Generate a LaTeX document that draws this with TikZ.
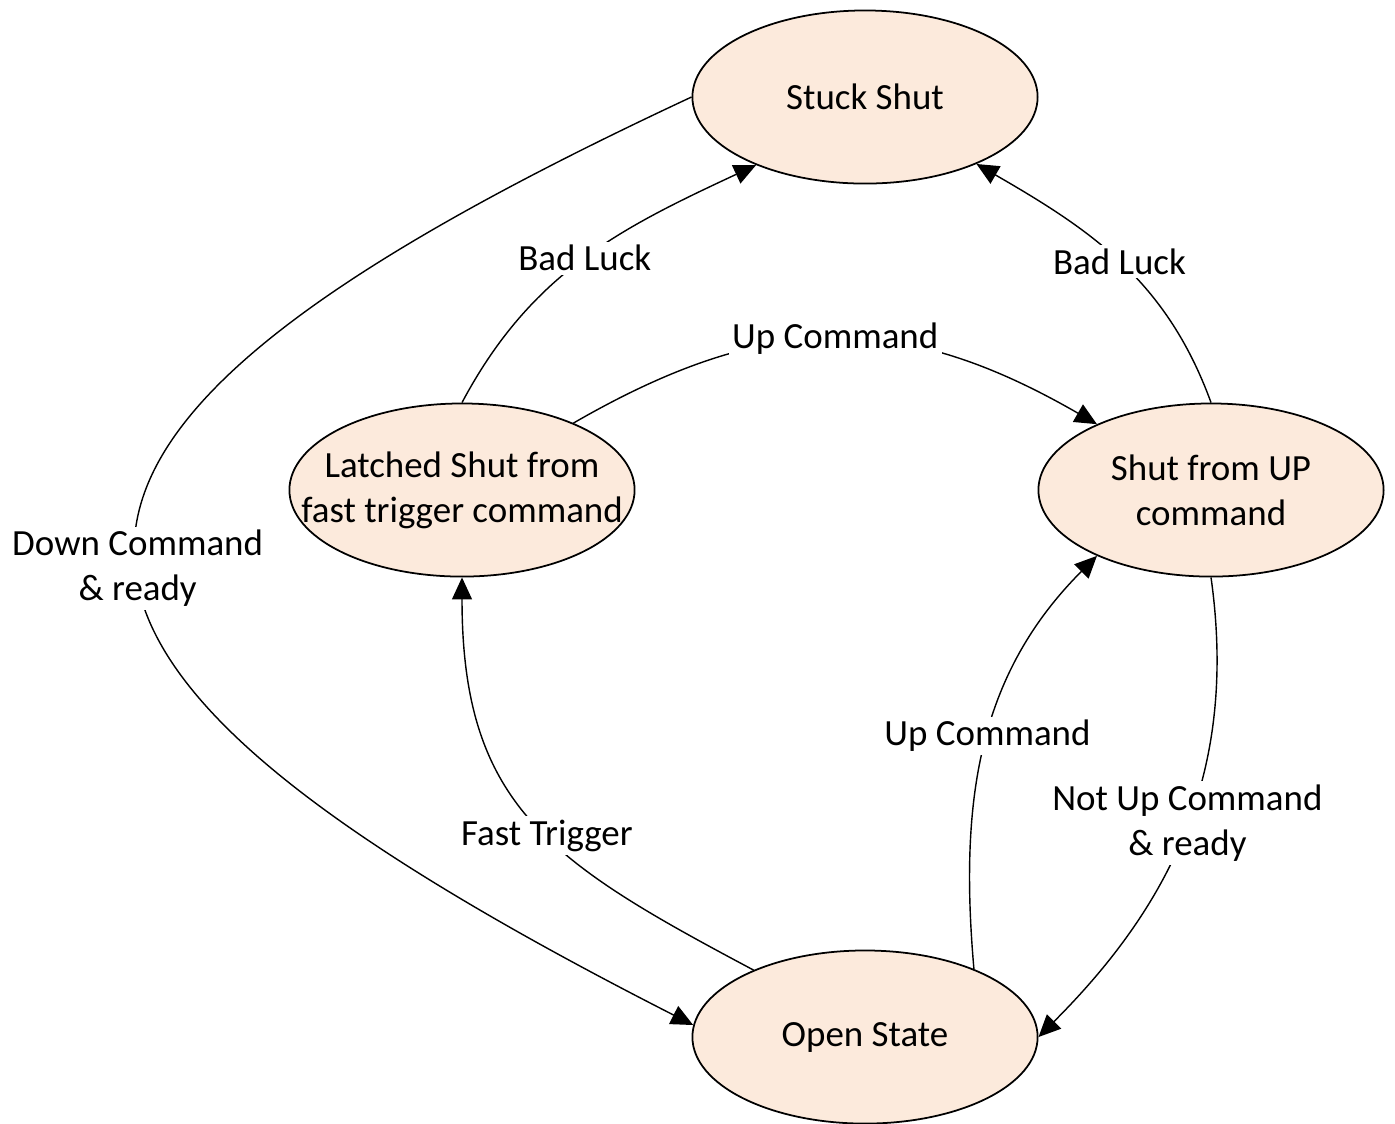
\documentclass[tikz,border=0pt]{standalone}
\usepackage{fontspec}
\setmainfont{Carlito}
\usetikzlibrary{arrows.meta,shapes.geometric}
\definecolor{statefill}{RGB}{252,234,220}
\begin{document}
\begin{tikzpicture}[
    x=0.01cm, y=-0.01cm, % one unit per pixel of the sketch
    font=\fontsize{10.5}{12.8}\selectfont,
    state/.style={ellipse, draw, line width=0.5pt, fill=statefill,
        minimum width=3.45cm, minimum height=1.73cm, inner sep=0pt},
    statetxt/.style={align=center, inner sep=0pt},
    trans/.style={draw, line width=0.4pt, -{Triangle[length=0.22cm, width=0.2cm]}},
    lbl/.style={fill=white, align=center, inner sep=1pt}
]
\useasboundingbox (0,0) rectangle (1395,1123);

% States
\node (stuck) [state, label={[statetxt]center:Stuck Shut}] at (865,97) {};
\node (latched) [state, label={[statetxt]center:Latched Shut from\\fast trigger command}] at (462,490) {};
\node (shutup) [state, label={[statetxt]center:Shut from UP\\command}] at (1211,490) {};
\node (open) [state, label={[statetxt]center:Open State}] at (865,1037) {};

% Transitions
\draw[trans] (stuck.west) to[out=205, in=153, looseness=2.27]
    node[lbl, pos=0.52] {Down Command\\\& ready} (open.176);
\draw[trans] (latched.north) to[out=62, in=205]
    node[lbl, pos=0.5] {Bad Luck} (stuck.212);
\draw[trans] (latched.31) to[out=30, in=150, looseness=1.1]
    node[lbl, pos=0.5] {Up Command} (shutup.150);
\draw[trans] (shutup.north) to[out=110, in=330]
    node[lbl, pos=0.5] {Bad Luck} (stuck.329);
\draw[trans] (open.32) to[out=95, in=225]
    node[lbl, pos=0.52] {Up Command} (shutup.210);
\draw[trans] (shutup.south) to[out=-82, in=45]
    node[lbl, pos=0.49] {Not Up Command\\\& ready} (open.east);
\draw[trans] (open.149) to[out=152, in=-90, looseness=1.2]
    node[lbl, pos=0.45] {Fast Trigger} (latched.south);

\end{tikzpicture}
\end{document}
